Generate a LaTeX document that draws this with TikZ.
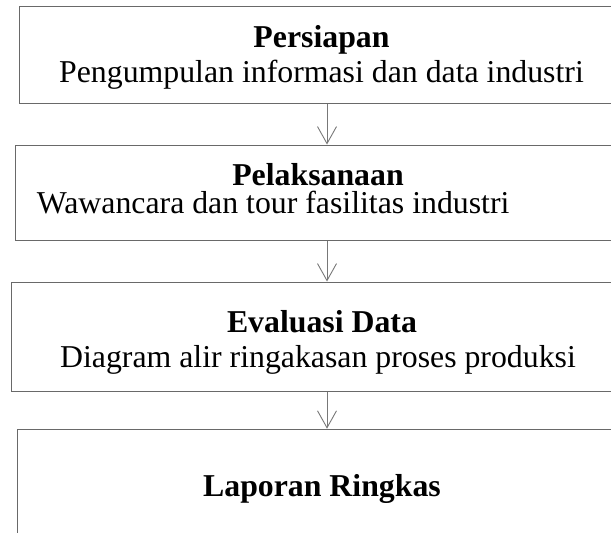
\documentclass[tikz,border=0pt]{standalone}
\usepackage{fontspec}
\setmainfont{Liberation Serif}
\usetikzlibrary{arrows.meta}
\definecolor{boxline}{RGB}{105,105,105}
\definecolor{arrline}{RGB}{120,120,120}
\begin{document}
\begin{tikzpicture}[x=1pt,y=-1pt,
  box/.style={draw=boxline,line width=1.2pt,rectangle,anchor=north west,inner sep=0pt},
  txt/.style={anchor=base,inner sep=0pt,font=\fontsize{31.8}{35}\selectfont},
  ttl/.style={txt,font=\fontsize{31.8}{35}\selectfont\bfseries},
  arr/.style={draw=arrline,line width=0.9pt,-{Straight Barb[length=17pt,width=19pt]}}]
\useasboundingbox (0,0) rectangle (611,533);
\clip (0,0) rectangle (611,533);
\node[box,minimum width=640pt,minimum height=96.8pt] (b1) at (18.7,5.7) {};
\node[box,minimum width=640pt,minimum height=95pt] (b2) at (14.7,144.5) {};
\node[box,minimum width=640pt,minimum height=109.5pt] (b3) at (11,281.5) {};
\node[box,minimum width=640pt,minimum height=140pt] (b4) at (17,428.7) {};
\coordinate (ax) at (327,0);
\node[ttl] (t1) at (321.5,47.3) {Persiapan};
\node[txt] (s1) at (321.5,82.3) {Pengumpulan informasi dan data industri};
\node[ttl] (t2) at (318,185.7) {Pelaksanaan};
\node[txt,anchor=base west] (s2) at (36.7,213.3) {Wawancara dan tour fasilitas industri};
\node[ttl] (t3) at (322,332) {Evaluasi Data};
\node[txt] (s3) at (318,367) {Diagram alir ringakasan proses produksi};
\node[ttl] (t4) at (322,496) {Laporan Ringkas};
\draw[arr] (b1.south -| ax) -- (b2.north -| ax);
\draw[arr] (b2.south -| ax) -- (b3.north -| ax);
\draw[arr] (b3.south -| ax) -- (b4.north -| ax);
\end{tikzpicture}
\end{document}
